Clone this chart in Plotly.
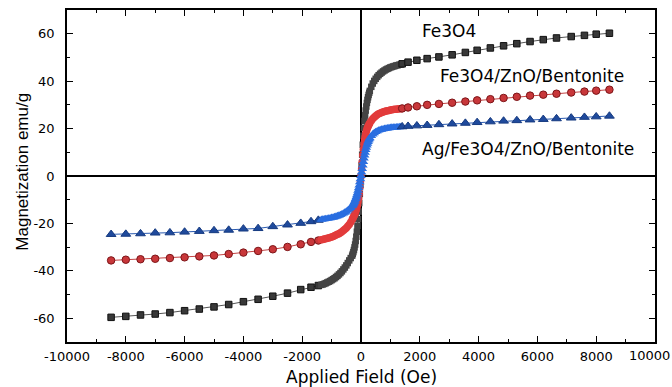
import plotly.graph_objects as go

# Applied field (Oe)
FIELD = [
    -8500, -8000, -7500, -7000, -6500, -6000, -5500, -5000, -4500, -4000, -3500, -3000, -2500, -2050, -1700, -1450,
    -1350, -1300, -1250, -1200, -1150, -1100, -1050, -1000, -950, -900, -850, -800, -750, -700, -650, -600, -550, -500, -450, -400, -350,
    -300, -280, -260, -240, -220, -200, -180, -160, -140, -120, -100, -80, -60, -40, -20,
    0,
    20, 40, 60, 80, 100, 120, 140, 160, 180, 200, 220, 240, 260, 280, 300,
    350, 400, 450, 500, 550, 600, 650, 700, 750, 800, 850, 900, 950, 1000, 1050, 1100, 1150, 1200, 1250, 1300, 1350,
    1400, 1600, 1900, 2250, 2650, 3100, 3550, 3950, 4400, 4850, 5300, 5750, 6200, 6650, 7150, 7600, 8000, 8450,
]

# Magnetization (emu/g)
FE3O4 = [
    -59.6, -59.2, -58.6, -58.2, -57.6, -56.8, -56.1, -55.2, -54.2, -53.0, -52.0, -50.7, -49.4, -47.9, -46.9, -46.2,
    -45.9, -45.7, -45.5, -45.2, -44.9, -44.6, -44.3, -43.9, -43.5, -43.1, -42.6, -42.1, -41.5, -40.9, -40.2, -39.4, -38.6, -37.7, -36.7, -35.6, -34.6,
    -33.6, -32.9, -32.1, -31.2, -30.1, -28.9, -27.4, -25.6, -23.5, -21.0, -18.2, -15.0, -11.4, -7.6, -3.8,
    0.0,
    4.5, 9.0, 13.2, 17.0, 20.3, 23.2, 25.6, 27.6, 29.3, 30.8, 32.1, 33.2, 34.2, 35.1, 35.9,
    37.6, 39.0, 40.1, 41.0, 41.8, 42.5, 43.1, 43.6, 44.1, 44.5, 44.9, 45.2, 45.5, 45.8, 46.0, 46.2, 46.4, 46.6, 46.75, 46.9, 47.0,
    47.3, 48.0, 48.8, 49.5, 50.2, 51.1, 52.1, 53.0, 54.0, 54.9, 55.8, 56.7, 57.5, 58.2, 58.8, 59.3, 59.8, 60.2,
]

FE3O4_ZNO_BENT = [
    -35.6, -35.3, -35.1, -34.9, -34.6, -34.3, -33.9, -33.5, -32.9, -32.3, -31.6, -30.9, -29.9, -28.8, -27.8, -27.2,
    -26.9, -26.8, -26.6, -26.5, -26.3, -26.1, -25.9, -25.7, -25.5, -25.2, -24.9, -24.6, -24.3, -23.9, -23.5, -23.0, -22.5, -21.9, -21.2, -20.4, -19.5,
    -18.3, -17.9, -17.4, -16.9, -16.3, -15.7, -15.0, -14.2, -13.3, -12.2, -10.9, -9.4, -7.4, -5.0, -2.5,
    0.0,
    3.0, 6.0, 8.8, 11.3, 13.4, 15.2, 16.6, 17.8, 18.8, 19.6, 20.3, 20.9, 21.4, 21.9, 22.3,
    23.3, 24.1, 24.8, 25.3, 25.8, 26.2, 26.5, 26.8, 27.0, 27.2, 27.4, 27.5, 27.65, 27.8, 27.9, 28.0, 28.1, 28.2, 28.3, 28.35, 28.4,
    28.5, 28.9, 29.4, 30.0, 30.4, 30.9, 31.4, 31.9, 32.4, 32.9, 33.4, 33.9, 34.3, 34.7, 35.2, 35.6, 36.0, 36.4,
]

AG_FE3O4_ZNO_BENT = [
    -24.6, -24.5, -24.3, -24.0, -23.9, -23.6, -23.3, -23.0, -22.8, -22.3, -22.1, -21.3, -20.6, -19.9, -19.2, -18.6,
    -18.4, -18.3, -18.2, -18.1, -18.0, -17.9, -17.8, -17.6, -17.5, -17.3, -17.1, -16.9, -16.7, -16.4, -16.1, -15.8, -15.4, -15.0, -14.5, -14.0, -13.4,
    -12.7, -12.3, -11.9, -11.4, -10.9, -10.3, -9.6, -8.9, -8.1, -7.2, -6.2, -5.1, -3.9, -2.6, -1.3,
    0.1,
    1.5, 3.0, 4.5, 6.0, 7.4, 8.7, 9.9, 11.0, 12.0, 12.9, 13.7, 14.4, 15.0, 15.5, 16.0,
    16.9, 17.6, 18.1, 18.6, 18.9, 19.2, 19.4, 19.6, 19.75, 19.9, 20.0, 20.1, 20.2, 20.3, 20.4, 20.45, 20.5, 20.55, 20.6, 20.65, 20.7,
    20.8, 21.0, 21.2, 21.4, 21.7, 22.0, 22.3, 22.6, 22.9, 23.2, 23.4, 23.7, 23.9, 24.2, 24.5, 24.8, 25.0, 25.3,
]

SERIES_NAMES = ["Fe3O4", "Fe3O4/ZnO/Bentonite", "Ag/Fe3O4/ZnO/Bentonite"]
X_TICKS = [-10000, -8000, -6000, -4000, -2000, 0, 2000, 4000, 6000, 8000, 10000]
Y_TICKS = [-60, -40, -20, 0, 20, 40, 60]

styles = [
    dict(y=FE3O4, symbol="square", size=6.5, far="#383838", dense="#444444", edge="#111111", line="#555555"),
    dict(y=FE3O4_ZNO_BENT, symbol="circle", size=7.5, far="#c8373a", dense="#e23b3b", edge="#7d1518", line="#c44444"),
    dict(y=AG_FE3O4_ZNO_BENT, symbol="triangle-up", size=8.5, far="#1f4a9c", dense="#2a6ee0", edge="#163a80", line="#2a5ab0"),
]

fig = go.Figure()
for name, s in zip(SERIES_NAMES, styles):
    far_mask = [abs(f) >= 1400 for f in FIELD]
    fig.add_trace(go.Scatter(
        x=FIELD, y=s["y"], name=name, mode="lines+markers",
        line=dict(color=s["line"], width=1),
        marker=dict(
            symbol=s["symbol"], size=s["size"],
            color=[s["far"] if m else s["dense"] for m in far_mask],
            line=dict(color=[s["edge"] if m else s["dense"] for m in far_mask],
                      width=[1 if m else 0 for m in far_mask]),
        ),
        showlegend=False,
    ))

TXT = "DejaVu Sans"
axis_common = dict(
    showline=True, linecolor="black", linewidth=1.5, mirror="ticks",
    ticks="inside", ticklen=6, tickwidth=1.2, tickcolor="black",
    showgrid=False, zeroline=True, zerolinecolor="black", zerolinewidth=1.5,
    tickfont=dict(family=TXT, size=13, color="black"),
    automargin=False,
)

# last x tick label is placed as an annotation flush with the right edge so it stays whole
x_ticktext = [str(v) for v in X_TICKS[:-1]] + [""]

fig.update_layout(
    width=672, height=387,
    margin=dict(l=67, r=17, t=10, b=45),
    paper_bgcolor="white", plot_bgcolor="white",
    xaxis=dict(
        range=[-10000, 10000], tickmode="array", tickvals=X_TICKS,
        ticktext=x_ticktext,
        minor=dict(tickvals=[v + 1000 for v in X_TICKS[:-1]], ticks="inside", ticklen=3, tickcolor="black"),
        ticklabelstandoff=2,
        **axis_common,
    ),
    yaxis=dict(
        range=[-70, 70], tickmode="array", tickvals=Y_TICKS,
        ticktext=[str(v) for v in Y_TICKS],
        minor=dict(tickvals=[v + 10 for v in Y_TICKS[:-1]], ticks="inside", ticklen=3, tickcolor="black"),
        ticklabelstandoff=8,
        **axis_common,
    ),
    annotations=[
        dict(text=str(X_TICKS[-1]), xref="paper", yref="paper", x=1.0285, y=-0.042,
             xanchor="right", yanchor="middle", showarrow=False,
             font=dict(family=TXT, size=13, color="black")),
        dict(text="Applied Field (Oe)", xref="paper", yref="paper", x=0.5, y=-0.105,
             xanchor="center", yanchor="middle", showarrow=False,
             font=dict(family=TXT, size=17, color="black")),
        dict(text="Magnetization emu/g", xref="paper", yref="paper", x=-0.076, y=0.514,
             xanchor="center", yanchor="middle", textangle=-90, showarrow=False,
             font=dict(family="Liberation Sans", size=17, color="black")),
        dict(text=SERIES_NAMES[0], xref="x", yref="y", x=2000, y=61,
             xanchor="left", yanchor="middle", showarrow=False,
             font=dict(family=TXT, size=17, color="black")),
        dict(text=SERIES_NAMES[1], xref="x", yref="y", x=2620, y=42,
             xanchor="left", yanchor="middle", showarrow=False,
             font=dict(family=TXT, size=17, color="black")),
        dict(text=SERIES_NAMES[2], xref="x", yref="y", x=2000, y=11.4,
             xanchor="left", yanchor="middle", showarrow=False,
             font=dict(family=TXT, size=17, color="black")),
    ],
)

fig.write_html(
    "out.html",
    config={"displayModeBar": False},
    post_script="document.body.style.margin='0';document.body.style.overflow='hidden';",
)
